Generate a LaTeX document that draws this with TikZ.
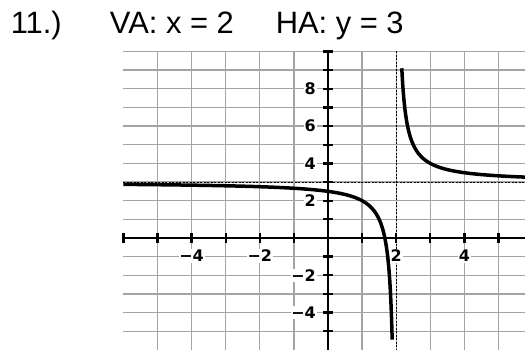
\documentclass[tikz,border=0pt]{standalone}
\usepackage{fontspec}
\setmainfont{Liberation Sans}
\newfontfamily\ticklabelfont{DejaVu Sans}[BoldFont={DejaVu Sans Bold}]
\usepackage{tikz}
\definecolor{GridGray}{HTML}{A4A4A4}
\begin{document}
\begin{tikzpicture}[x=34.1bp,y=18.65bp,
  gridline/.style={draw=GridGray,line width=1.3bp},
  axis/.style={draw=black,line width=2.6bp},
  tickmark/.style={draw=black,line width=2.3bp},
  asym/.style={draw=black,line width=0.8bp,dash pattern=on 2bp off 1.5bp},
  graph/.style={draw=black,line width=3.5bp},
  ticklabel/.style={fill=white,inner sep=0.8bp,font=\ticklabelfont\bfseries\fontsize{16}{17}\selectfont},
  title/.style={anchor=base west,inner sep=0pt,font=\fontsize{31}{34}\selectfont}
]
  \useasboundingbox (-9.619,-6.005) rectangle (5.777,12.761);
  \node[title] (num) at (-9.308,10.976) {11.)};
  \node[title] (va) at (-6.399,10.976) {VA: x = 2};
  \node[title] (ha) at (-1.537,10.976) {HA: y = 3};
  \foreach \x in {-5,...,5}
    \draw[gridline] (\x,-6.005) -- (\x,10);
  \foreach \y in {-5,...,10}
    \draw[gridline] (-6,\y) -- (5.777,\y);
  \coordinate (xmin) at (-6,0);
  \coordinate (xmax) at (5.777,0);
  \coordinate (ymin) at (0,-6.005);
  \coordinate (ymax) at (0,10);
  \coordinate (hatop) at (-6,3);
  \coordinate (haend) at (5.777,3);
  \coordinate (vatop) at (2,10);
  \coordinate (vaend) at (2,-6.005);
  \draw[axis] (xmin) -- (xmax);
  \draw[axis] (ymin) -- (ymax);
  \foreach \x in {-6,...,5}
    \draw[tickmark] (\x,0) ++(0,-5bp) -- ++(0,10bp);
  \foreach \y in {-5,...,10}
    \draw[tickmark] (0,\y) ++(-5bp,0) -- ++(10bp,0);
  \draw[asym] (hatop) -- (haend);
  \draw[asym] (vatop) -- (vaend);
  \foreach \x/\t [count=\i] in {-4/−4,-2/−2,2/2,4/4}
    \node[ticklabel] (xl\i) at (\x,-0.965) {\t};
  \foreach \y/\t [count=\i] in {8/8,6/6,4/4,2/2,-2/−2,-4/−4}
    \node[ticklabel,anchor=east] (yl\i) at (-0.33,\y) {\t};
  \draw[graph] plot[domain=-6:1,samples=60] (\x,{3+1/(\x-2)})
    -- plot[domain=2:-5.45,samples=60] ({2+1/(\x-3)},\x);
  \draw[graph] plot[domain=9.1:4,samples=60] ({2+1/(\x-3)},\x)
    -- plot[domain=3:5.777,samples=40] (\x,{3+1/(\x-2)});
\end{tikzpicture}
\end{document}
